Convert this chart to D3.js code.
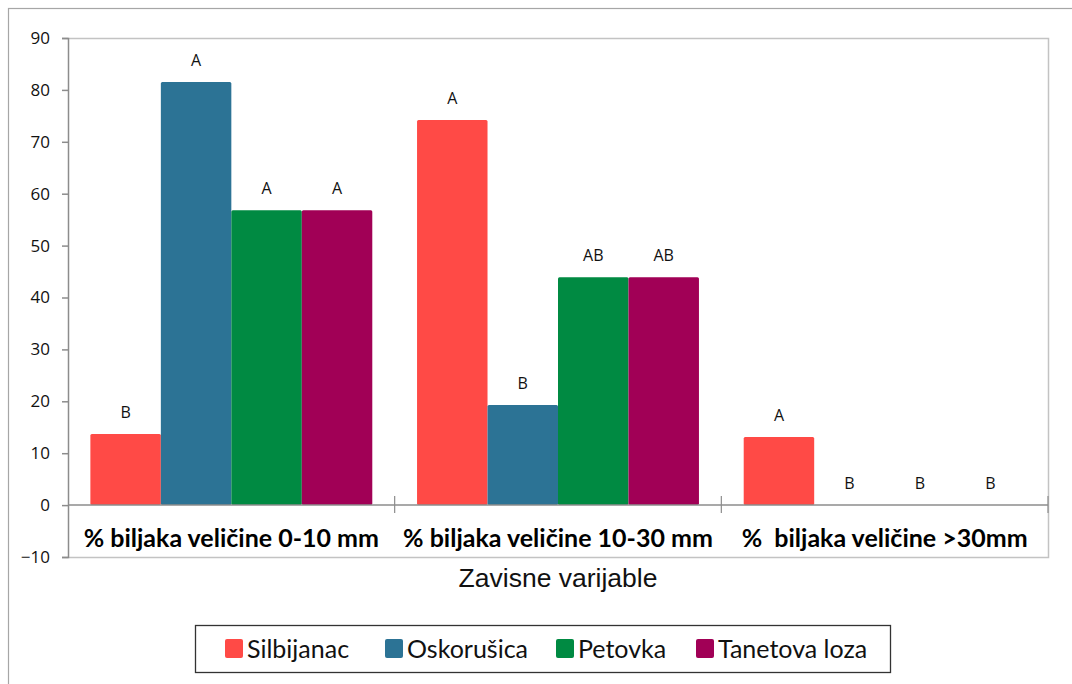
<!DOCTYPE html>
<html>
<head>
<meta charset="utf-8">
<script src="https://cdn.jsdelivr.net/npm/d3@7"></script>
<style>
  body { margin: 0; background: #fff; }
  svg { display: block; }
</style>
</head>
<body>
<div id="chart"></div>
<script>
// data
const categories = ["% biljaka veličine 0-10 mm", "% biljaka veličine 10-30 mm", "%  biljaka veličine >30mm"];
const seriesNames = ["Silbijanac", "Oskorušica", "Petovka", "Tanetova loza"];
const seriesColors = ["#ff4a46", "#2c7395", "#008a42", "#a10056"];
const silbijanac = [13.7, 74.2, 13.1];
const oskorusica = [81.5, 19.3, 0];
const petovka = [56.8, 43.9, 0];
const tanetova = [56.8, 43.9, 0];
const letters = [
  ["B", "A", "A", "A"],
  ["A", "B", "AB", "AB"],
  ["A", "B", "B", "B"]
];
const yTicks = [-10, 0, 10, 20, 30, 40, 50, 60, 70, 80, 90];
const xTitle = "Zavisne varijable";

const seriesValues = [silbijanac, oskorusica, petovka, tanetova];

const W = 1072, H = 684;
const margin = { top: 38, right: 24, bottom: 127, left: 68 };
const width = W - margin.left - margin.right;
const height = H - margin.top - margin.bottom;

const svg = d3.select("#chart").append("svg")
  .attr("width", W)
  .attr("height", H);

// outer chart frame (runs off the right / bottom edge)
svg.append("rect")
  .attr("x", 8.5).attr("y", 8.5)
  .attr("width", W + 10).attr("height", H + 10)
  .attr("fill", "none")
  .attr("stroke", "#a6a6a6")
  .attr("stroke-width", 1.2);

const g = svg.append("g")
  .attr("transform", `translate(${margin.left}, ${margin.top})`);

const y = d3.scaleLinear().domain([-10, 90]).range([height, 0]);
const x0 = d3.scaleBand().domain(categories).range([0, width])
  .paddingInner(0.137).paddingOuter(0.0685);
const x1 = d3.scaleBand().domain(seriesNames).range([0, x0.bandwidth()]);

// plot area frame (light gray top / right / bottom)
g.append("path")
  .attr("d", `M0,0.5H${width + 0.5}V${height + 0.5}H0`)
  .attr("fill", "none")
  .attr("stroke", "#c3c3c3")
  .attr("stroke-width", 1.5);

// bars
const groups = g.selectAll("g.cat")
  .data(categories)
  .enter().append("g")
  .attr("class", "cat")
  .attr("transform", d => `translate(${x0(d)}, 0)`);

groups.each(function(cat, ci) {
  const rows = seriesNames.map((s, si) => ({ s: s, si: si, v: seriesValues[si][ci], l: letters[ci][si] }));
  const sel = d3.select(this);
  sel.selectAll("rect")
    .data(rows.filter(d => d.v > 0))
    .enter().append("rect")
    .attr("x", d => x1(d.s))
    .attr("y", d => y(d.v))
    .attr("width", x1.bandwidth())
    .attr("height", d => y(0) - y(d.v))
    .attr("rx", 1.5)
    .attr("fill", d => seriesColors[d.si]);
  sel.selectAll("text")
    .data(rows)
    .enter().append("text")
    .attr("x", d => x1(d.s) + x1.bandwidth() / 2)
    .attr("y", d => y(d.v) - 22)
    .attr("dy", "0.35em")
    .attr("text-anchor", "middle")
    .attr("font-family", "'Open Sans', sans-serif")
    .attr("font-size", 16)
    .attr("fill", "#111")
    .text(d => d.l);
});

// y axis
const yAxis = d3.axisLeft(y).tickValues(yTicks).tickSize(6).tickPadding(12);
const yg = g.append("g").call(yAxis);
yg.select(".domain").attr("stroke", "#8c8c8c").attr("stroke-width", 1.5)
  .attr("d", `M-6,0.5H0.5V${height + 0.5}H-6`);
yg.selectAll(".tick line").attr("stroke", "#8c8c8c").attr("stroke-width", 1.5);
yg.selectAll(".tick text")
  .attr("font-family", "'Open Sans', sans-serif")
  .attr("font-size", 17)
  .attr("fill", "#111");

// zero line with category separators
const xg = g.append("g").attr("transform", `translate(0, ${y(0)})`);
xg.append("line")
  .attr("x1", 0).attr("x2", width)
  .attr("stroke", "#8c8c8c").attr("stroke-width", 1.5);
const bounds = categories.map((c, i) => (i + 1) * x0.step());
xg.selectAll("line.sep")
  .data(bounds)
  .enter().append("line")
  .attr("class", "sep")
  .attr("x1", d => d).attr("x2", d => d)
  .attr("y1", -9).attr("y2", 8)
  .attr("stroke", "#8c8c8c").attr("stroke-width", 1.2);

// category labels
g.selectAll("text.cat-label")
  .data(categories)
  .enter().append("text")
  .attr("class", "cat-label")
  .attr("x", d => x0(d) + x0.bandwidth() / 2)
  .attr("y", y(0) + 33)
  .attr("dy", "0.35em")
  .attr("text-anchor", "middle")
  .attr("font-family", "Lato, 'Open Sans', sans-serif")
  .attr("font-weight", "bold")
  .attr("font-size", 25)
  .attr("fill", "#000")
  .attr("xml:space", "preserve")
  .style("white-space", "pre")
  .text(d => d);

// axis title
svg.append("text")
  .attr("x", margin.left + width / 2)
  .attr("y", 578)
  .attr("dy", "0.35em")
  .attr("text-anchor", "middle")
  .attr("font-family", "'Liberation Sans', Arial, sans-serif")
  .attr("font-size", 26.5)
  .attr("fill", "#111")
  .text(xTitle);

// legend
const legendX = [225, 385, 556, 696];
const legend = svg.append("g");
legend.append("rect")
  .attr("x", 195.5).attr("y", 625.5)
  .attr("width", 695).attr("height", 47)
  .attr("fill", "#fff")
  .attr("stroke", "#333")
  .attr("stroke-width", 1.3);
const items = legend.selectAll("g.item")
  .data(seriesNames)
  .enter().append("g")
  .attr("class", "item")
  .attr("transform", (d, i) => `translate(${legendX[i]}, 639)`);
items.append("rect")
  .attr("width", 18).attr("height", 19).attr("rx", 2)
  .attr("fill", (d, i) => seriesColors[i]);
items.append("text")
  .attr("x", 22).attr("y", 10)
  .attr("dy", "0.35em")
  .attr("font-family", "Lato, 'Open Sans', sans-serif")
  .attr("font-size", 25)
  .attr("fill", "#111")
  .text(d => d);
</script>
</body>
</html>
